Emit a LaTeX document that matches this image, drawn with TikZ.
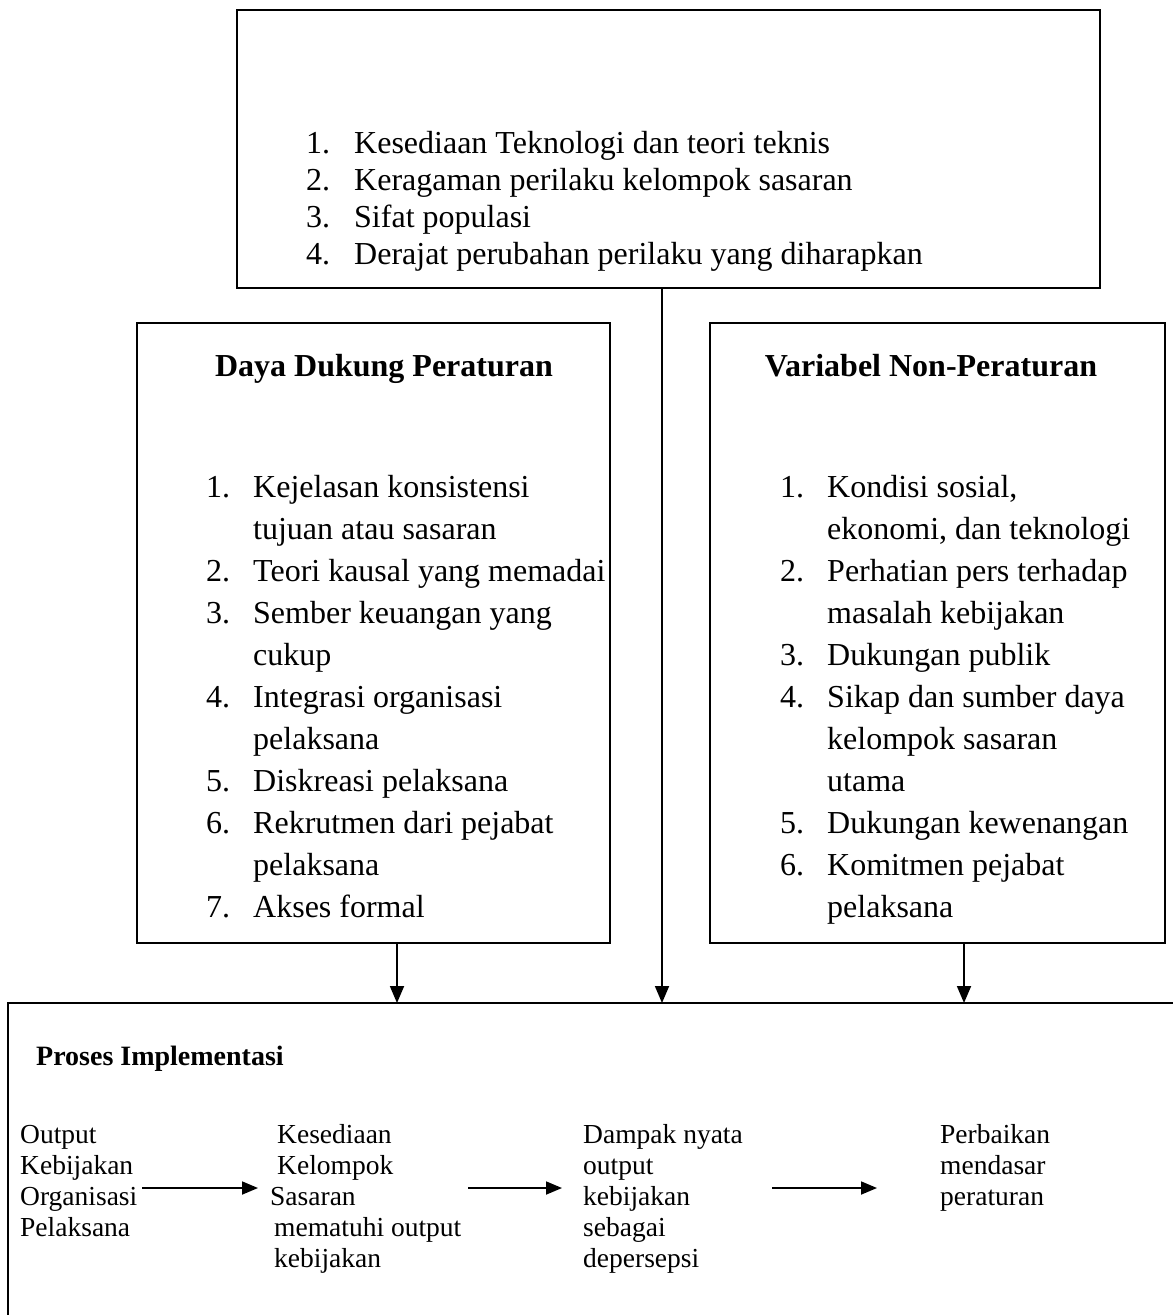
\documentclass[tikz,border=0pt]{standalone}
\usepackage{fontspec}
\setmainfont{Liberation Serif}
\usetikzlibrary{arrows.meta}
\begin{document}
\begin{tikzpicture}[x=1pt,y=-1pt,
  box/.style={draw, line width=2pt, anchor=north west, inner sep=0pt, outer sep=0pt},
  txt/.style={anchor=base west, inner sep=0pt, font=\fontsize{32}{37}\selectfont},
  stxt/.style={anchor=base west, inner sep=0pt, font=\fontsize{27.5}{31}\selectfont},
  ttl/.style={anchor=base, inner sep=0pt, font=\fontsize{32}{37}\selectfont\bfseries},
  arr/.style={line width=1.8pt, -{Triangle[length=17pt,width=14pt]}},
  harr/.style={line width=1.8pt, -{Triangle[length=16pt,width=13pt]}}]
\useasboundingbox (0,0) rectangle (1173,1315);
\fill[white] (0,0) rectangle (1173,1315);
\clip (0,0) rectangle (1173,1315);
% boxes
\node[box, minimum width=863pt, minimum height=278pt] (top) at (237,10) {};
\node[box, minimum width=473pt, minimum height=620pt] (left) at (137,323) {};
\node[box, minimum width=455pt, minimum height=620pt] (right) at (710,323) {};
\node[box, minimum width=1200pt, minimum height=400pt] (proc) at (8,1003) {};
% top list
\foreach \t [count=\i from 0] in {{Kesediaan Teknologi dan teori teknis},{Keragaman perilaku kelompok sasaran},{Sifat populasi},{Derajat perubahan perilaku yang diharapkan}}
  \node[txt] (tt\i) at (354,{153+37*\i}) {\t};
\foreach \n [count=\i from 0] in {1,2,3,4}
  \node[txt] (tn\n) at (306,{153+37*\i}) {\n.};
% left box
\node[ttl] (ltitle) at (384,376) {Daya Dukung Peraturan};
\foreach \t [count=\i from 0] in {{Kejelasan konsistensi},{tujuan atau sasaran},{Teori kausal yang memadai},{Sember keuangan yang},{cukup},{Integrasi organisasi},{pelaksana},{Diskreasi pelaksana},{Rekrutmen dari pejabat},{pelaksana},{Akses formal}}
  \node[txt] (lt\i) at (253,{497+42*\i}) {\t};
\foreach \n/\l in {1/0,2/2,3/3,4/5,5/7,6/8,7/10}
  \node[txt] (ln\n) at (206,{497+42*\l}) {\n.};
% right box
\node[ttl] (rtitle) at (931,376) {Variabel Non-Peraturan};
\foreach \t [count=\i from 0] in {{Kondisi sosial,},{ekonomi, dan teknologi},{Perhatian pers terhadap},{masalah kebijakan},{Dukungan publik},{Sikap dan sumber daya},{kelompok sasaran},{utama},{Dukungan kewenangan},{Komitmen pejabat},{pelaksana}}
  \node[txt] (rt\i) at (827,{497+42*\i}) {\t};
\foreach \n/\l in {1/0,2/2,3/4,4/5,5/8,6/9}
  \node[txt] (rn\n) at (780,{497+42*\l}) {\n.};
% vertical connectors
\coordinate (xl) at (397,0);
\coordinate (xm) at (662,0);
\coordinate (xr) at (964,0);
\draw[arr] (top.south -| xm) -- (proc.north -| xm);
\draw[arr] (left.south -| xl) -- (proc.north -| xl);
\draw[arr] (right.south -| xr) -- (proc.north -| xr);
% process box
\node[anchor=base west, inner sep=0pt, font=\fontsize{28}{32}\selectfont\bfseries] (ptitle) at (36,1065) {Proses Implementasi};
\node[stxt] (c1a) at (20,1143) {Output};
\node[stxt] (c1b) at (20,1174) {Kebijakan};
\node[stxt] (c1c) at (20,1205) {Organisasi};
\node[stxt] (c1d) at (20,1236) {Pelaksana};
\node[stxt] (c2a) at (277,1143) {Kesediaan};
\node[stxt] (c2b) at (277,1174) {Kelompok};
\node[stxt] (c2c) at (270,1205) {Sasaran};
\node[stxt] (c2d) at (274,1236) {mematuhi output};
\node[stxt] (c2e) at (274,1267) {kebijakan};
\node[stxt] (c3a) at (583,1143) {Dampak nyata};
\node[stxt] (c3b) at (583,1174) {output};
\node[stxt] (c3c) at (583,1205) {kebijakan};
\node[stxt] (c3d) at (583,1236) {sebagai};
\node[stxt] (c3e) at (583,1267) {depersepsi};
\node[stxt] (c4a) at (940,1143) {Perbaikan};
\node[stxt] (c4b) at (940,1174) {mendasar};
\node[stxt] (c4c) at (940,1205) {peraturan};
% horizontal arrows
\coordinate (a1s) at (142,1188);
\coordinate (a1e) at (258,1188);
\coordinate (a2s) at (468,1188);
\coordinate (a2e) at (562,1188);
\coordinate (a3s) at (772,1188);
\coordinate (a3e) at (877,1188);
\draw[harr] (a1s) -- (a1e);
\draw[harr] (a2s) -- (a2e);
\draw[harr] (a3s) -- (a3e);
\end{tikzpicture}
\end{document}
